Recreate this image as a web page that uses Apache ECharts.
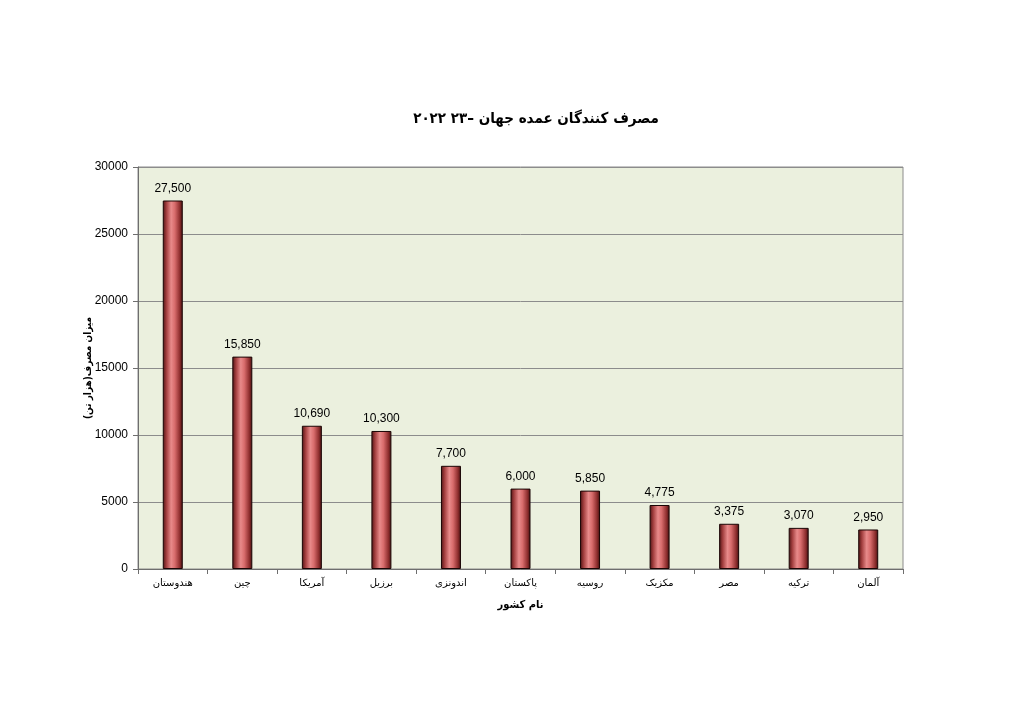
<!DOCTYPE html>
<html>
<head>
<meta charset="utf-8">
<script src="https://cdn.jsdelivr.net/npm/echarts@6/dist/echarts.min.js"></script>
<style>
html,body{margin:0;padding:0;background:#fff;}
#chart{width:1024px;height:724px;}
</style>
</head>
<body>
<div id="chart"></div>
<script>
const titleText = 'مصرف کنندگان عمده جهان –۲۳ ۲۰۲۲';
const xAxisName = 'نام کشور';
const yAxisName = 'میزان مصرف(هزار تن)';
const categories = ['هندوستان', 'چین', 'آمریکا', 'برزیل', 'اندونزی', 'پاکستان', 'روسیه', 'مکزیک', 'مصر', 'ترکیه', 'آلمان'];
const values = [27500, 15850, 10690, 10300, 7700, 6000, 5850, 4775, 3375, 3070, 2950];
const yTicks = [0, 5000, 10000, 15000, 20000, 25000, 30000];

const chart = echarts.init(document.getElementById('chart'), null, {renderer: 'canvas'});
const barGradient = new echarts.graphic.LinearGradient(0, 0, 1, 0, [
  {offset: 0, color: '#4a1212'},
  {offset: 0.18, color: '#a23e3e'},
  {offset: 0.42, color: '#e88a8a'},
  {offset: 0.6, color: '#d86c6c'},
  {offset: 0.85, color: '#8e2e2e'},
  {offset: 1, color: '#3e0e0e'}
]);
chart.setOption({
  backgroundColor: '#ffffff',
  animation: false,
  title: {
    text: titleText,
    left: 531,
    top: 107,
    textAlign: 'center',
    textStyle: {fontFamily: 'DejaVu Sans Condensed, DejaVu Sans', fontWeight: 'bold', fontSize: 15, color: '#000'}
  },
  grid: {
    left: 138, right: 121, top: 167, bottom: 155,
    show: true, backgroundColor: '#ebf0de', borderColor: '#8c8c8c', borderWidth: 1
  },
  xAxis: {
    type: 'category',
    data: categories,
    name: xAxisName,
    nameLocation: 'middle',
    nameGap: 31,
    nameTextStyle: {fontFamily: 'DejaVu Sans Condensed, DejaVu Sans', fontWeight: 'bold', fontSize: 11, color: '#000'},
    axisLine: {lineStyle: {color: '#6e6e6e', width: 1}},
    axisTick: {show: true, alignWithLabel: false, length: 5, lineStyle: {color: '#6e6e6e'}},
    axisLabel: {fontFamily: 'DejaVu Sans', fontSize: 10, color: '#000', margin: 9, interval: 0}
  },
  yAxis: {
    type: 'value',
    min: yTicks[0],
    max: yTicks[yTicks.length - 1],
    interval: yTicks[1] - yTicks[0],
    name: yAxisName,
    nameLocation: 'middle',
    nameGap: 45,
    nameMoveOverlap: false,
    nameRotate: 90,
    nameTextStyle: {fontFamily: 'DejaVu Sans Condensed, DejaVu Sans', fontWeight: 'bold', fontSize: 10, color: '#000'},
    axisLine: {show: true, lineStyle: {color: '#6e6e6e', width: 1}},
    axisTick: {show: true, length: 5, lineStyle: {color: '#6e6e6e'}},
    axisLabel: {fontFamily: 'Liberation Sans', fontSize: 12, color: '#000', margin: 10, formatter: v => String(v)},
    splitLine: {lineStyle: {color: '#8c8c8c', width: 1}}
  },
  series: [{
    type: 'bar',
    data: values,
    barWidth: 20,
    itemStyle: {color: barGradient, borderColor: '#1a0505', borderWidth: 1},
    label: {
      show: true,
      position: 'top',
      distance: 6,
      fontFamily: 'Liberation Sans',
      fontSize: 12,
      color: '#000',
      formatter: p => p.value.toLocaleString('en-US')
    }
  }]
});
</script>
</body>
</html>
